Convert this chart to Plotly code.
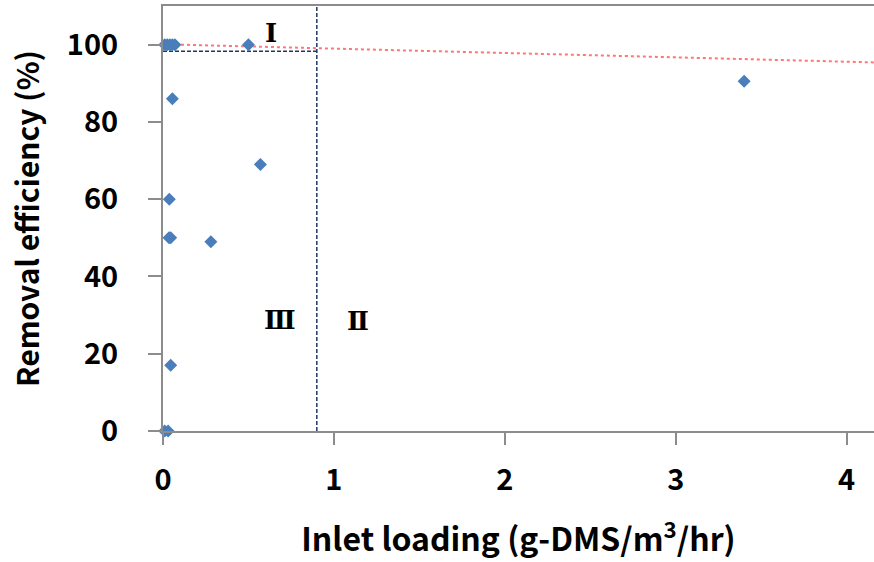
import plotly.graph_objects as go

# Data
inlet_loading = [0.01, 0.025, 0.04, 0.055, 0.07, 0.50, 0.055, 0.57, 0.037, 0.035, 0.045, 0.28, 0.045, 0.01, 0.03, 3.40]
removal_eff = [100, 100, 100, 100, 100, 100, 86, 69, 60, 50, 50, 49, 17, 0, 0, 90.5]

trend_x = [0, 4.16]
trend_intercept = 100.1
trend_slope = -1.13
trend_y = [trend_intercept + trend_slope * x for x in trend_x]

boundary_x = 0.9
boundary_y = 98.3

region_labels = ["Ⅰ", "Ⅲ", "Ⅱ"]
region_x = [0.63, 0.684, 1.14]
region_y = [103, 28.7, 28.5]

x_range = [0, 4.16]
y_range = [0, 110]
x_ticks = [0, 1, 2, 3, 4]
y_ticks = [0, 20, 40, 60, 80, 100]

FONT = "Noto Sans CJK KR"
SERIF = "DejaVu Serif"
AXIS_COLOR = "#8C8C8C"
NAVY = "#1F3864"

fig = go.Figure()

fig.add_trace(go.Scatter(
    x=trend_x, y=trend_y, mode="lines",
    line=dict(color="rgba(255,60,60,0.7)", width=2, dash="dot"),
    hoverinfo="skip", showlegend=False,
))

# boundary dashed lines
fig.add_trace(go.Scatter(
    x=[boundary_x, boundary_x], y=[y_range[0], y_range[1]], mode="lines",
    line=dict(color=NAVY, width=1.5, dash="4px,2px"), showlegend=False,
))
fig.add_trace(go.Scatter(
    x=[0, boundary_x], y=[boundary_y, boundary_y], mode="lines",
    line=dict(color=NAVY, width=1.5, dash="4px,2px"), showlegend=False,
))

fig.add_trace(go.Scatter(
    x=inlet_loading, y=removal_eff, mode="markers",
    marker=dict(symbol="diamond", size=10, color="#4A7EBB", line=dict(width=0)),
    showlegend=False, cliponaxis=False,
))

for t, x, y in zip(region_labels, region_x, region_y):
    fig.add_annotation(x=x, y=y, text="<b>%s</b>" % t, showarrow=False,
                       font=dict(family=SERIF, size=26, color="black"))

fig.update_layout(
    width=874, height=562,
    margin=dict(l=163, r=0, t=6, b=131),
    paper_bgcolor="white", plot_bgcolor="white",
    font=dict(family=FONT, color="black"),
    showlegend=False,
)

fig.update_xaxes(
    range=x_range, tickvals=x_ticks, ticktext=[str(v) for v in x_ticks],
    showgrid=False, zeroline=False,
    showline=True, linecolor=AXIS_COLOR, linewidth=2, mirror=True,
    ticks="outside", ticklen=12, tickwidth=2, tickcolor=AXIS_COLOR,
    ticklabelstandoff=10,
    tickfont=dict(family=FONT, size=29, color="black", weight="bold"),
    title=dict(text="<b>Inlet loading (g-DMS/m<sup>3</sup>/hr)</b>",
               font=dict(family=FONT, size=32, color="black"), standoff=32),
)
fig.update_yaxes(
    range=y_range, tickvals=y_ticks, ticktext=[str(v) for v in y_ticks],
    showgrid=False, zeroline=False,
    showline=True, linecolor=AXIS_COLOR, linewidth=2,
    ticks="outside", ticklen=13, tickwidth=2, tickcolor=AXIS_COLOR,
    ticklabelstandoff=24,
    tickfont=dict(family=FONT, size=29, color="black", weight="bold"),
    title=dict(text="<b>Removal efficiency (%)</b>",
               font=dict(family=FONT, size=30, color="black"), standoff=18),
)

fig.write_html("out.html")
